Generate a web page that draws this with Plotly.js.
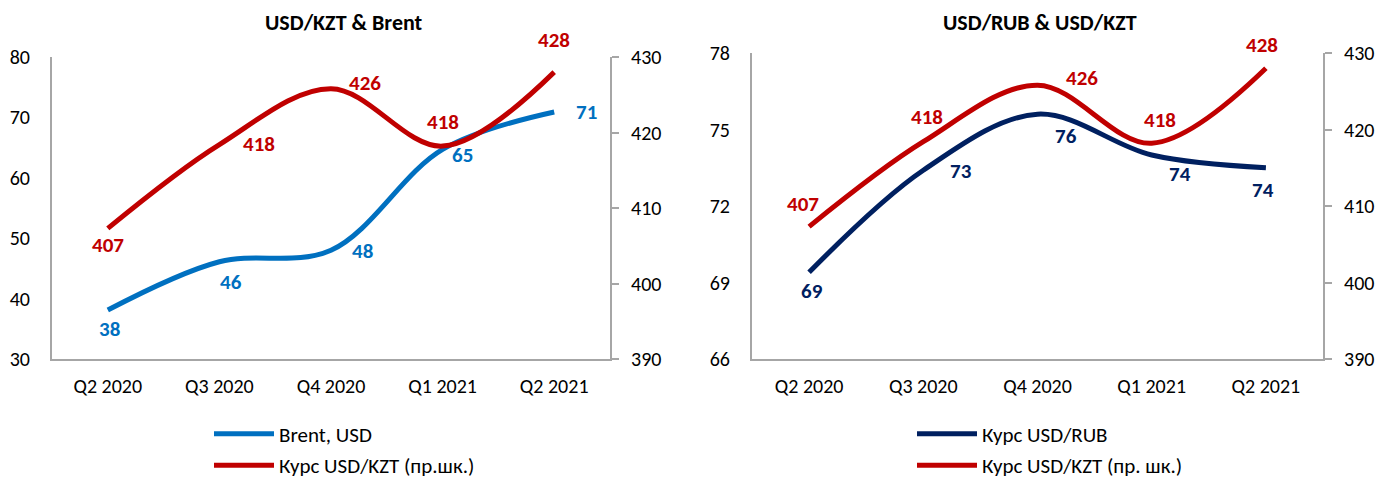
<!DOCTYPE html>
<html><head><meta charset="utf-8">
<script src="https://cdn.plot.ly/plotly-3.0.1.min.js"></script>
<style>html,body{margin:0;padding:0;background:#fff}#chart{width:1379px;height:486px}</style>
</head><body><div id="chart"></div>
<script>
// ---- data ----
const quarters = ["Q2 2020", "Q3 2020", "Q4 2020", "Q1 2021", "Q2 2021"];
const brentUSD = [38.1, 46.1, 48.0, 64.7, 70.9];
const usdKZT = [407.3, 418.4, 425.8, 418.2, 428.0];
const usdRUB = [69.4, 73.4, 75.6, 74.0, 73.5];
const titleLeft = "USD/KZT &amp; Brent";
const titleRight = "USD/RUB &amp; USD/KZT";
const nameBrent = "Brent, USD";
const nameKZTLeft = "Курс USD/KZT (пр.шк.)";
const nameRUB = "Курс USD/RUB";
const nameKZTRight = "Курс USD/KZT (пр. шк.)";

// ---- styles ----
const FONT = "Carlito, Calibri, 'Liberation Sans Narrow', 'Open Sans', sans-serif";
const BLUE = "#0070C0", RED = "#C00000", NAVY = "#002060", GREY = "#A6A6A6";
const W = 1379, H = 486;
const px = v => v / W, py = v => 1 - v / H;

const traces = [
  {x: quarters, y: brentUSD, xaxis: "x", yaxis: "y", name: nameBrent, type: "scatter", mode: "lines",
   line: {color: BLUE, width: 5, shape: "spline"}, legend: "legend"},
  {x: quarters, y: usdKZT, xaxis: "x", yaxis: "y2", name: nameKZTLeft, type: "scatter", mode: "lines",
   line: {color: RED, width: 5, shape: "spline"}, legend: "legend2"},
  {x: quarters, y: usdRUB, xaxis: "x2", yaxis: "y3", name: nameRUB, type: "scatter", mode: "lines",
   line: {color: NAVY, width: 5, shape: "spline"}, legend: "legend3"},
  {x: quarters, y: usdKZT, xaxis: "x2", yaxis: "y4", name: nameKZTRight, type: "scatter", mode: "lines",
   line: {color: RED, width: 5, shape: "spline"}, legend: "legend4"}
];

// label offsets (px) per point
const offBrent = [[2,-19],[12,-20],[32,-1],[20,-6],[32,0]];
const offKZTL = [[0,-17],[40,1],[34,6],[0,24],[0,32]];
const offRUB = [[3,-19],[38,-1],[28,-22],[28,-19],[-3,-22]];
const offKZTR = [[-6,23],[4,25],[44,7],[8,23],[-4,23]];

const annotations = [];
function addLabels(vals, xref, yref, color, offs) {
  vals.forEach((v, i) => annotations.push({
    x: quarters[i], y: v, xref: xref, yref: yref, text: String(Math.round(v)),
    showarrow: false, xshift: offs[i][0], yshift: offs[i][1],
    font: {family: FONT, size: 21, color: color, weight: "bold"}
  }));
}
addLabels(brentUSD, "x", "y", BLUE, offBrent);
addLabels(usdKZT, "x", "y2", RED, offKZTL);
addLabels(usdRUB, "x2", "y3", NAVY, offRUB);
addLabels(usdKZT, "x2", "y4", RED, offKZTR);
annotations.push({text: "<b>" + titleLeft + "</b>", x: px(344), y: py(22), xref: "paper", yref: "paper",
  xanchor: "center", yanchor: "middle", showarrow: false, font: {family: FONT, size: 22, color: "#000"}});
annotations.push({text: "<b>" + titleRight + "</b>", x: px(1040), y: py(22), xref: "paper", yref: "paper",
  xanchor: "center", yanchor: "middle", showarrow: false, font: {family: FONT, size: 22, color: "#000"}});

const tickFont = {family: FONT, size: 20, color: "#000"};
const xBase = {type: "category", range: [-0.5, 4.5], showgrid: false, showline: true, linecolor: GREY, linewidth: 2,
  ticks: "", tickfont: tickFont, ticklabelstandoff: 8, zeroline: false, fixedrange: true};
const yBase = {showgrid: false, showline: true, linecolor: GREY, linewidth: 2, zeroline: false,
  tickfont: tickFont, fixedrange: true};

const legBase = {font: {family: FONT, size: 21, color: "#000"}, bgcolor: "rgba(0,0,0,0)",
  xanchor: "left", itemwidth: 60};

const layout = {
  width: W, height: H, margin: {l: 0, r: 0, t: 0, b: 0},
  paper_bgcolor: "#fff", plot_bgcolor: "#fff",
  xaxis: Object.assign({}, xBase, {domain: [px(52), px(610)], anchor: "y"}),
  yaxis: Object.assign({}, yBase, {domain: [py(359), py(57)], range: [30, 80], dtick: 10, anchor: "x",
    ticks: "", ticklabelstandoff: 16}),
  yaxis2: Object.assign({}, yBase, {domain: [py(359), py(57)], range: [390, 430], dtick: 10, anchor: "x",
    overlaying: "y", side: "right", ticks: "outside", ticklen: 7, tickcolor: GREY, tickwidth: 2, ticklabelstandoff: 8}),
  xaxis2: Object.assign({}, xBase, {domain: [px(752), px(1323)], anchor: "y3"}),
  yaxis3: Object.assign({}, yBase, {domain: [py(359), py(53)], range: [66, 78], dtick: 3, anchor: "x2",
    ticks: "", ticklabelstandoff: 16}),
  yaxis4: Object.assign({}, yBase, {domain: [py(359), py(53)], range: [390, 430], dtick: 10, anchor: "x2",
    overlaying: "y3", side: "right", ticks: "outside", ticklen: 7, tickcolor: GREY, tickwidth: 2, ticklabelstandoff: 8}),
  legend: Object.assign({}, legBase, {x: px(209), y: py(434), yanchor: "middle"}),
  legend2: Object.assign({}, legBase, {x: px(209), y: 0, yanchor: "bottom"}),
  legend3: Object.assign({}, legBase, {x: px(912), y: py(434), yanchor: "middle"}),
  legend4: Object.assign({}, legBase, {x: px(912), y: 0, yanchor: "bottom"}),
  annotations: annotations,
  showlegend: true
};

Plotly.newPlot("chart", traces, layout, {displayModeBar: false, staticPlot: true});
</script></body></html>
